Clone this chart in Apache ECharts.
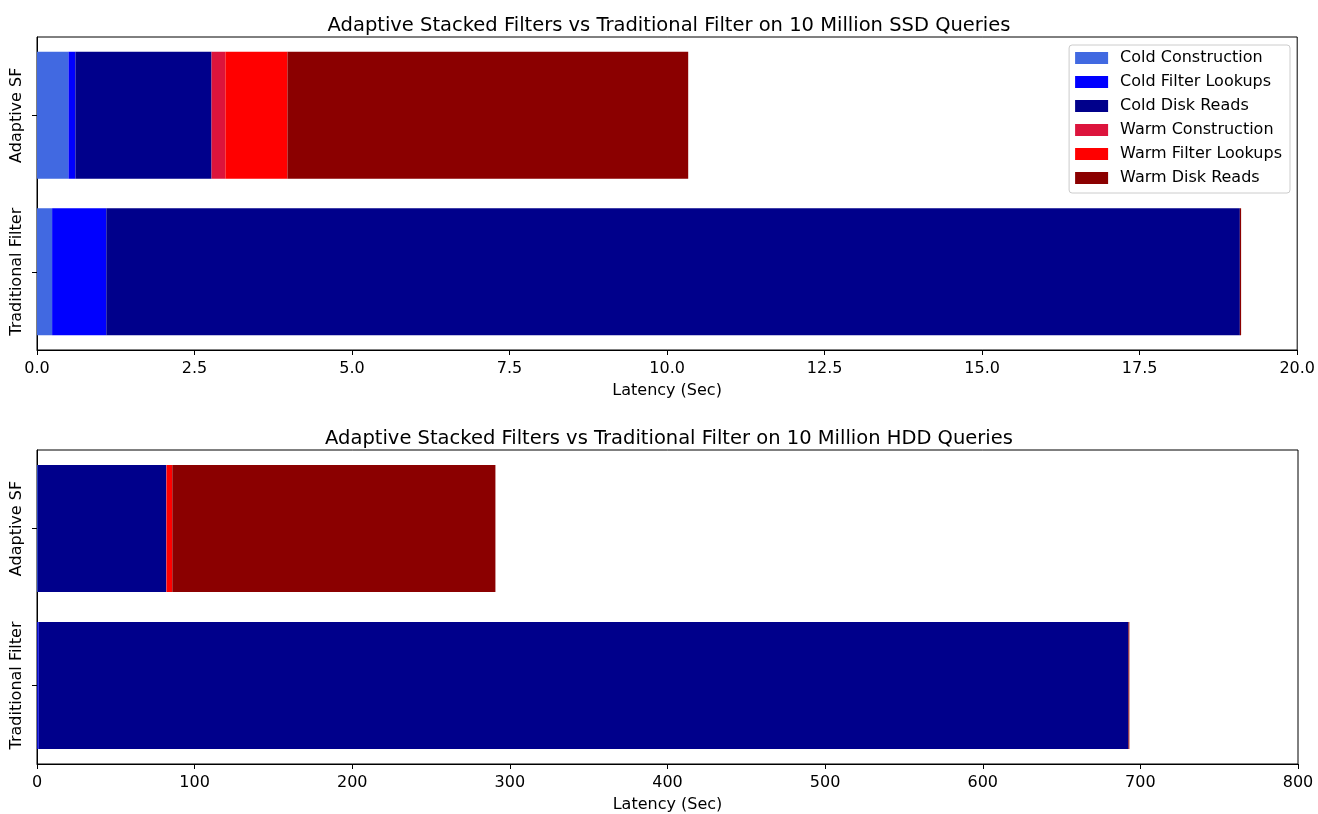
<!DOCTYPE html>
<html>
<head>
<meta charset="utf-8">
<script src="https://cdn.jsdelivr.net/npm/echarts@6/dist/echarts.min.js"></script>
<style>
  html, body { margin: 0; padding: 0; background: #fff; }
  #chart { width: 1318px; height: 814px; }
</style>
</head>
<body>
<div id="chart"></div>
<script>
// Filter configurations (rows of both panels)
const categories = ['Adaptive SF', 'Traditional Filter'];

// Phase names, in stacking order
const phases = [
  'Cold Construction', 'Cold Filter Lookups', 'Cold Disk Reads',
  'Warm Construction', 'Warm Filter Lookups', 'Warm Disk Reads'
];
const phaseColors = ['#4169E1', '#0000FF', '#00008B', '#DC143C', '#FF0000', '#8B0000'];

// SSD latency per phase, seconds: [Adaptive SF, Traditional Filter]
const ssdColdConstruction = [0.50, 0.24];
const ssdColdLookups      = [0.11, 0.86];
const ssdColdDiskReads    = [2.16, 17.99];
const ssdWarmConstruction = [0.22, 0.00];
const ssdWarmLookups      = [0.985, 0.00];
const ssdWarmDiskReads    = [6.36, 0.02];

// HDD latency per phase, seconds: [Adaptive SF, Traditional Filter]
const hddColdConstruction = [0.50, 0.24];
const hddColdLookups      = [0.11, 0.86];
const hddColdDiskReads    = [81.4, 691.3];
const hddWarmConstruction = [0.22, 0.00];
const hddWarmLookups      = [3.6, 0.00];
const hddWarmDiskReads    = [205.0, 0.6];

// Axis ticks
const ssdTicks = [0, 2.5, 5, 7.5, 10, 12.5, 15, 17.5, 20];
const hddTicks = [0, 100, 200, 300, 400, 500, 600, 700, 800];

const ssdSeries = [ssdColdConstruction, ssdColdLookups, ssdColdDiskReads,
                   ssdWarmConstruction, ssdWarmLookups, ssdWarmDiskReads];
const hddSeries = [hddColdConstruction, hddColdLookups, hddColdDiskReads,
                   hddWarmConstruction, hddWarmLookups, hddWarmDiskReads];

const FONT = 'DejaVu Sans';
const chart = echarts.init(document.getElementById('chart'), null, { renderer: 'canvas' });

function xAxisFor(gridIndex, ticks, fmt) {
  return {
    type: 'value', gridIndex: gridIndex,
    min: ticks[0], max: ticks[ticks.length - 1],
    interval: ticks[1] - ticks[0],
    name: 'Latency (Sec)', nameLocation: 'middle', nameGap: 33,
    nameTextStyle: { color: '#000', fontFamily: FONT, fontSize: 16 },
    axisLine: { show: true, lineStyle: { color: '#000', width: 1 } },
    axisTick: { show: true, length: 5, lineStyle: { color: '#000' } },
    axisLabel: { color: '#000', fontFamily: FONT, fontSize: 16, margin: 11, formatter: fmt },
    splitLine: { show: false }
  };
}

function yAxisFor(gridIndex) {
  return {
    type: 'category', gridIndex: gridIndex, data: categories, inverse: true,
    axisLine: { show: true, lineStyle: { color: '#000', width: 1 } },
    axisTick: { show: true, length: 5, alignWithLabel: true, interval: 0, lineStyle: { color: '#000' } },
    axisLabel: { color: '#000', fontFamily: FONT, fontSize: 16, rotate: 90, margin: 12,
                 interval: 0, hideOverlap: false },
    splitLine: { show: false }
  };
}

const series = [];
[ssdSeries, hddSeries].forEach(function (set, g) {
  set.forEach(function (vals, i) {
    series.push({
      name: phases[i], type: 'bar', stack: 'total' + g,
      xAxisIndex: g, yAxisIndex: g,
      barWidth: 127,
      itemStyle: { color: phaseColors[i] },
      emphasis: { disabled: true },
      data: vals
    });
  });
});

chart.setOption({
  animation: false,
  backgroundColor: '#fff',
  title: [
    { text: 'Adaptive Stacked Filters vs Traditional Filter on 10 Million SSD Queries',
      left: 664, top: 11, textAlign: 'center',
      textStyle: { color: '#000', fontFamily: FONT, fontSize: 19.5, fontWeight: 'normal' } },
    { text: 'Adaptive Stacked Filters vs Traditional Filter on 10 Million HDD Queries',
      left: 664, top: 424, textAlign: 'center',
      textStyle: { color: '#000', fontFamily: FONT, fontSize: 19.5, fontWeight: 'normal' } }
  ],
  legend: {
    data: phases,
    orient: 'vertical',
    right: 28, top: 45,
    itemWidth: 33, itemHeight: 12, itemGap: 8,
    icon: 'rect',
    padding: [5, 8, 7, 6],
    backgroundColor: '#fff',
    borderColor: '#ccc', borderWidth: 1, borderRadius: 3,
    textStyle: { color: '#000', fontFamily: FONT, fontSize: 16, lineHeight: 16, padding: [0, 0, 0, 7] },
    selectedMode: false
  },
  grid: [
    { left: 37, right: 20, top: 37, height: 313, show: true, borderColor: '#000', borderWidth: 1, containLabel: false },
    { left: 37, right: 20, top: 450, height: 315, show: true, borderColor: '#000', borderWidth: 1, containLabel: false }
  ],
  xAxis: [
    xAxisFor(0, ssdTicks, function (v) { return v.toFixed(1); }),
    xAxisFor(1, hddTicks, function (v) { return String(v); })
  ],
  yAxis: [yAxisFor(0), yAxisFor(1)],
  series: series
});
</script>
</body>
</html>
